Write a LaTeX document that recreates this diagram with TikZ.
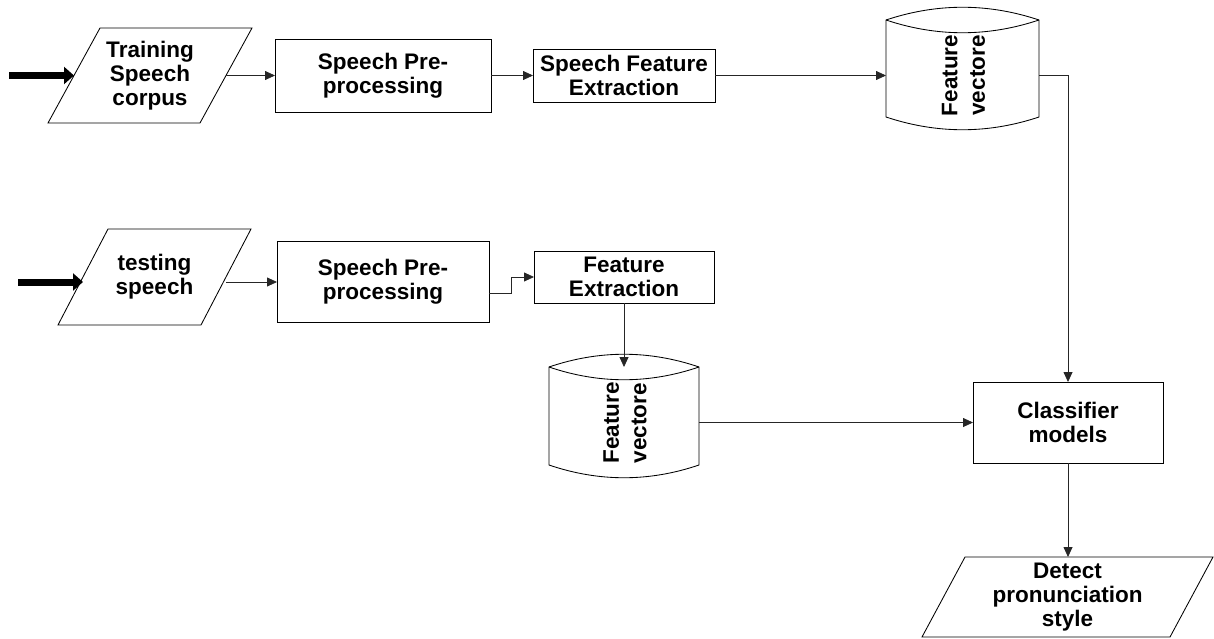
\documentclass[tikz,border=0pt]{standalone}
\usepackage{fontspec}
\setmainfont{Liberation Sans}
\usetikzlibrary{arrows.meta,calc}

% drum outline around an invisible body node: #1 = node name
\newcommand\drumoutline[1]{%
  \draw[outline]
    (#1.north west)
      .. controls ($(#1.north west)!1/3!(#1.north east)+(0,-17)$)
              and ($(#1.north west)!2/3!(#1.north east)+(0,-17)$) .. (#1.north east)
    -- (#1.south east)
      .. controls ($(#1.south west)!2/3!(#1.south east)+(0,17)$)
              and ($(#1.south west)!1/3!(#1.south east)+(0,17)$) .. (#1.south west)
    -- cycle;
  \draw[outline]
    (#1.north west)
      .. controls ($(#1.north west)!1/3!(#1.north east)+(0,17)$)
              and ($(#1.north west)!2/3!(#1.north east)+(0,17)$) .. (#1.north east);
}
% slanted input/output outline: #1 = node name, #2 = half slant
\newcommand\slantoutline[2]{%
  \draw[outline]
    ($(#1.north west)+(#2,0)$) -- ($(#1.north east)+(#2,0)$)
    -- ($(#1.south east)+(-#2,0)$) -- ($(#1.south west)+(-#2,0)$) -- cycle;
}

\begin{document}
\begin{tikzpicture}[x=1pt,y=-1pt,
  every node/.style={inner sep=0pt, outer sep=0pt, align=center,
    font=\bfseries\fontsize{22.5}{24.3}\selectfont},
  outline/.style={draw=black, line width=0.85pt},
  procbox/.style={draw=black, line width=0.85pt},
  iobody/.style={},
  drumbody/.style={},
  drumtext/.style={rotate=90, font=\bfseries\fontsize{22.5}{27.5}\selectfont},
  conn/.style={draw=black!85, line width=0.8pt, -{Triangle[length=10pt,width=9pt]}},
  feed/.style={draw=black, line width=7pt, -{Triangle[length=10pt,width=17pt]}}
]
\useasboundingbox (0,0) rectangle (1214,639);

% training branch
\node[iobody, minimum width=152, minimum height=95] (train) at (150,75.5) {Training\\Speech\\corpus};
\slantoutline{train}{26}
\node[procbox, minimum width=216, minimum height=73] (pp1) at (383,75.5) {Speech Pre-\\processing};
\node[procbox, minimum width=182, minimum height=53] (sfe1) at (624,75.5) {Speech Feature\\Extraction};
\node[drumbody, minimum width=153, minimum height=97] (fv1) at (962.5,68.5) {};
\drumoutline{fv1}
\node[drumtext] (fv1t) at ($(fv1.center)+(1,7)$) {Feature\\vectore};

% testing branch
\node[iobody, minimum width=143, minimum height=96] (test) at (154.5,277) {testing\\speech};
\slantoutline{test}{25}
\node[procbox, minimum width=212, minimum height=81] (pp2) at (383,281.5) {Speech Pre-\\processing};
\node[procbox, minimum width=180, minimum height=52] (fe2) at (624,277) {Feature\\Extraction};
\node[drumbody, minimum width=150, minimum height=98] (fv2) at (624,416) {};
\drumoutline{fv2}
\node[drumtext] (fv2t) at ($(fv2.center)+(1,7)$) {Feature\\vectore};

% classification
\node[procbox, minimum width=190, minimum height=81] (cls) at (1068,422.5) {Classifier\\models};
\node[iobody, minimum width=248, minimum height=80] (det) at (1067.5,597) {Detect\\pronunciation\\style};
\slantoutline{det}{21.5}

% inputs
\coordinate (in1) at (9,75.5);
\coordinate (in2) at (18,282);
\draw[feed] (in1) -- (train.west);
\draw[feed] (in2) -- (in2 -| test.west);

% connectors
\draw[conn] (train.east) -- (pp1.west);
\draw[conn] (pp1.east) -- (sfe1.west);
\draw[conn] (sfe1.east) -- (sfe1.east -| fv1.west);
\draw[conn] (fv1.east |- sfe1.east) -| (cls.north);

\draw[conn] (test.east |- in2) -- (pp2.west |- in2);
\draw[conn] ($(pp2.east)+(0,11.5)$) -- ++(22,0) |- (fe2.west);
\draw[conn] (fe2.south) -- (fv2.north);
\draw[conn] (fv2.east |- cls.west) -- (cls.west);
\draw[conn] (cls.south) -- (cls.south |- det.north);
\end{tikzpicture}
\end{document}
